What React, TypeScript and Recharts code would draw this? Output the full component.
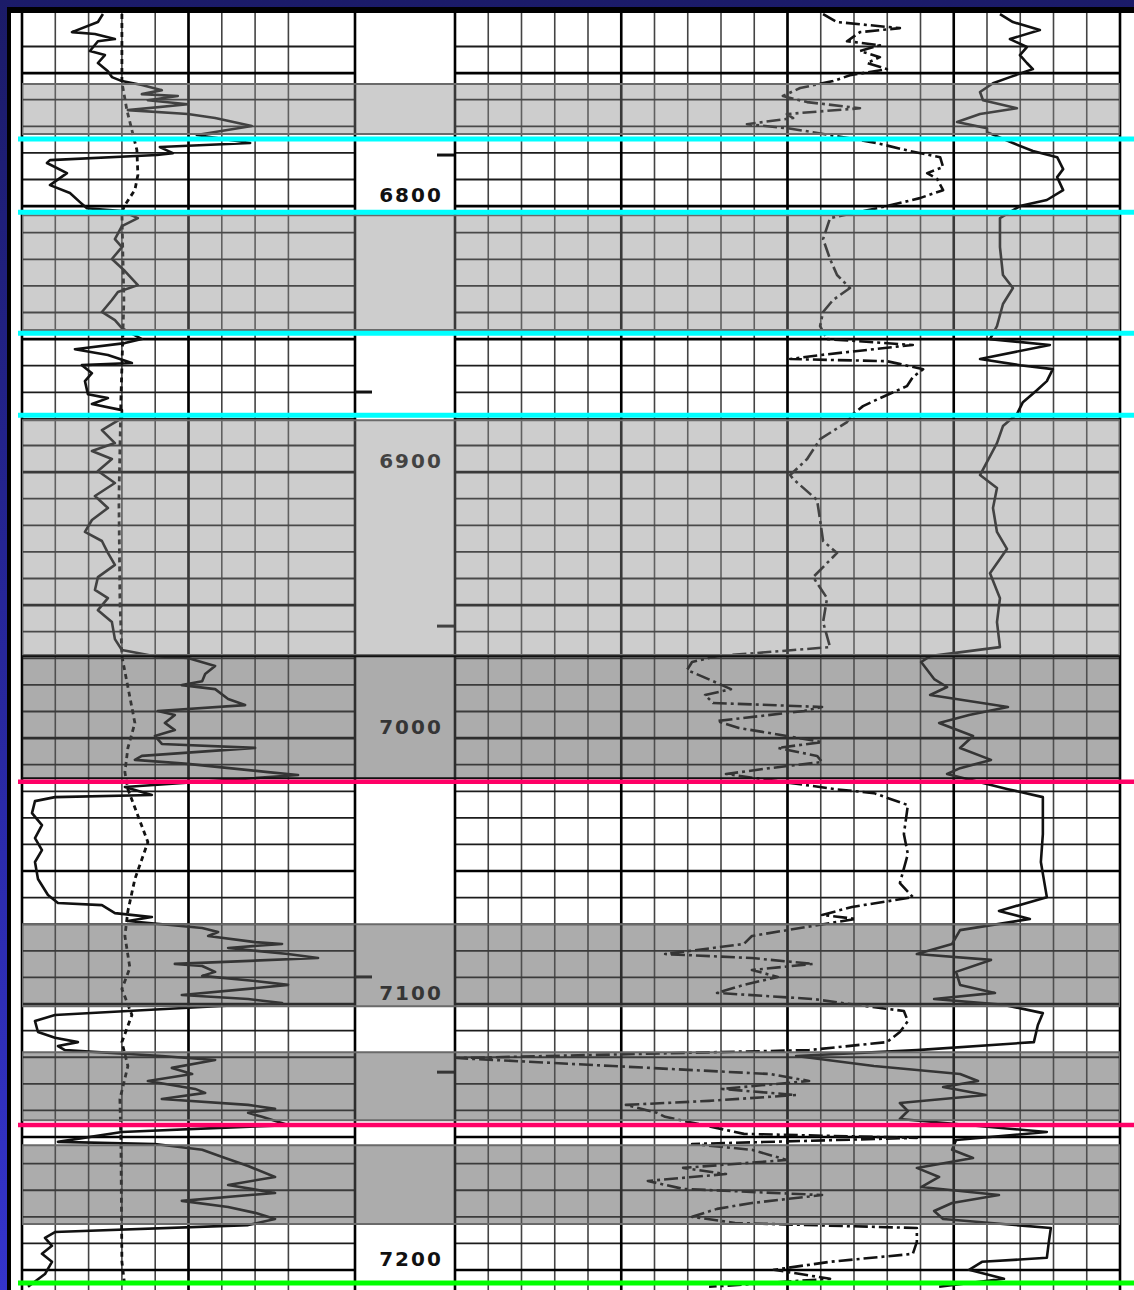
import React from 'react';
import { ScatterChart, Scatter, XAxis, YAxis, CartesianGrid, ReferenceArea, ReferenceLine } from 'recharts';

// depth window shown on the sheet (ft)
const TOP_DEPTH = 6727.4;
const BOTTOM_DEPTH = 7207.5;
const TOP = 13;
const HEIGHT = 1277;
const PAD = 3;

const depthMinorTicks = Array.from({ length: 48 }, (_, i) => 6730 + i * 10);
const depthMajorTicks = [6750, 6800, 6850, 6900, 6950, 7000, 7050, 7100, 7150, 7200];
const leftMinorTicks = [0, 10, 20, 30, 40, 50, 60, 70, 80, 90, 100];
const leftMajorTicks = [0, 50, 100];
const rightMinorTicks = Array.from({ length: 21 }, (_, i) => i);
const rightMajorTicks = [0, 5, 10, 15, 20];

const depthLabels = ['6800', '6900', '7000', '7100', '7200'];
const depthLabelValues = [6800, 6900, 7000, 7100, 7200];
const markDepths = [6780.8, 6869.9, 6957.9, 7089.8, 7125.6];
const markSides = ['right', 'left', 'right', 'left', 'right'];

// [depth, value] — left track 0..100
const grCurve: [number, number][] = [
  [6727.8, 24.3], [6730.8, 22.8], [6734.6, 15.0], [6735.3, 21.9], [6737.2, 27.9], [6738.0, 22.8],
  [6741.7, 20.4], [6743.2, 24.9], [6746.2, 22.8], [6749.3, 25.8], [6751.5, 27.0], [6753.0, 30.0],
  [6754.5, 36.0], [6756.4, 42.0], [6757.9, 36.0], [6758.6, 46.8], [6760.2, 37.8], [6761.7, 49.8],
  [6763.9, 31.8], [6765.4, 49.8], [6766.9, 58.0], [6769.9, 69.0], [6773.3, 52.5], [6776.3, 68.5],
  [6777.8, 41.4], [6780.1, 45.3], [6780.8, 40.5], [6782.7, 8.4], [6783.8, 7.5], [6787.6, 13.5],
  [6792.1, 8.4], [6795.1, 14.4], [6798.5, 17.4], [6800.8, 19.5], [6801.9, 30.0], [6804.5, 34.8],
  [6807.5, 30.0], [6812.4, 27.9], [6815.4, 30.0], [6819.9, 27.0], [6824.4, 30.9], [6829.7, 34.8],
  [6832.3, 28.8], [6835.3, 27.0], [6839.8, 24.0], [6842.9, 27.9], [6845.9, 30.0], [6850.0, 36.0],
  [6851.5, 30.9], [6853.8, 15.9], [6856.0, 25.8], [6859.0, 33.0], [6859.8, 18.0], [6862.8, 21.0],
  [6865.8, 18.9], [6870.7, 19.8], [6872.2, 25.8], [6874.4, 21.0], [6876.7, 30.0], [6879.7, 30.0],
  [6884.2, 24.0], [6889.1, 27.9], [6892.1, 21.0], [6895.1, 27.0], [6899.6, 22.8], [6904.1, 27.9],
  [6909.0, 21.9], [6913.5, 25.8], [6918.0, 21.0], [6922.5, 18.9], [6925.9, 24.0], [6930.4, 25.8],
  [6934.9, 27.9], [6939.5, 22.8], [6944.3, 21.9], [6947.4, 25.8], [6951.9, 22.8], [6956.4, 27.0],
  [6962.8, 27.9], [6966.9, 30.0], [6969.2, 39.9], [6969.9, 49.8], [6972.9, 58.0], [6975.9, 55.0],
  [6978.6, 54.1], [6980.1, 48.0], [6981.6, 58.0], [6985.3, 61.9], [6987.6, 67.0], [6989.8, 40.8],
  [6991.3, 45.9], [6994.3, 42.9], [6997.0, 45.9], [6999.2, 39.9], [7002.2, 42.0], [7003.7, 70.0],
  [7006.7, 36.0], [7008.2, 33.9], [7009.7, 49.8], [7012.8, 73.9], [7013.9, 82.9], [7018.4, 30.9],
  [7021.4, 39.0], [7022.2, 9.9], [7023.7, 3.9], [7028.2, 3.0], [7032.7, 6.0], [7037.6, 3.9],
  [7042.1, 6.0], [7046.6, 3.9], [7053.0, 4.8], [7059.0, 7.8], [7062.0, 10.8], [7062.8, 24.0],
  [7065.8, 27.9], [7067.3, 39.0], [7068.8, 31.8], [7071.4, 54.1], [7072.9, 58.9], [7074.4, 55.9],
  [7076.7, 70.0], [7077.4, 78.1], [7078.9, 61.9], [7081.2, 79.9], [7082.7, 88.9], [7084.9, 45.9],
  [7085.7, 54.1], [7087.9, 58.0], [7089.4, 54.1], [7091.3, 70.0], [7092.8, 79.9], [7094.3, 67.9],
  [7096.6, 48.0], [7098.1, 67.9], [7099.6, 78.1], [7101.1, 54.1], [7102.6, 31.8], [7104.1, 9.9],
  [7106.4, 3.9], [7110.5, 4.8], [7112.7, 9.9], [7114.3, 16.8], [7115.8, 10.8], [7117.3, 12.9],
  [7119.5, 42.0], [7120.3, 49.8], [7121.0, 58.0], [7124.0, 45.0], [7126.3, 51.1], [7128.9, 37.8],
  [7131.9, 52.0], [7133.4, 55.0], [7135.7, 42.0], [7137.9, 67.9], [7139.4, 76.0], [7140.9, 67.9],
  [7142.4, 72.1], [7145.5, 79.9], [7148.1, 30.0], [7151.8, 10.8], [7152.6, 39.9], [7154.8, 54.1],
  [7157.9, 61.0], [7160.9, 67.9], [7165.0, 76.0], [7168.0, 61.9], [7171.0, 76.0], [7174.0, 48.0],
  [7176.3, 61.9], [7178.5, 70.0], [7180.8, 76.0], [7183.1, 67.9], [7185.7, 9.9], [7187.9, 6.9],
  [7190.9, 9.0], [7193.9, 6.0], [7196.9, 9.0], [7201.5, 6.9], [7206.3, 1.8],
];

const spCurve: [number, number][] = [
  [6727.8, 30.0], [6753.4, 30.0], [6763.9, 31.5], [6778.9, 34.5], [6788.3, 34.8], [6793.9, 33.9],
  [6799.6, 30.9], [6802.3, 30.0], [6835.3, 30.6], [6872.9, 29.7], [6910.5, 29.1], [6948.1, 29.4],
  [6969.2, 30.0], [6994.3, 33.9], [7003.7, 31.8], [7012.8, 30.9], [7019.2, 31.8], [7039.1, 37.8],
  [7053.0, 33.9], [7065.0, 31.8], [7074.4, 30.9], [7086.4, 32.4], [7094.3, 30.0], [7104.1, 33.0],
  [7114.3, 30.0], [7123.3, 31.8], [7135.7, 29.4], [7151.1, 29.7], [7196.9, 30.0], [7206.3, 30.9],
];

// [depth, value] — right track 0..20
const deepCurve: [number, number][] = [
  [6727.8, 11.07], [6730.8, 11.49], [6733.1, 13.38], [6734.6, 12.18], [6738.0, 11.79], [6739.5, 12.78],
  [6741.7, 12.18], [6744.0, 12.78], [6746.2, 12.39], [6748.5, 12.99], [6750.8, 11.88], [6753.0, 11.37],
  [6755.6, 10.38], [6758.6, 9.86], [6760.9, 10.59], [6763.2, 12.18], [6765.4, 9.98], [6766.9, 10.17],
  [6769.2, 8.78], [6770.7, 9.98], [6772.2, 10.77], [6776.3, 12.69], [6779.3, 13.68], [6781.6, 14.59],
  [6785.3, 14.68], [6787.6, 14.2], [6789.8, 14.5], [6794.0, 14.68], [6797.0, 13.98], [6800.0, 12.99],
  [6804.5, 11.28], [6812.4, 11.07], [6819.9, 11.28], [6825.9, 11.49], [6830.8, 11.88], [6835.3, 11.37],
  [6839.8, 11.07], [6845.1, 10.98], [6850.0, 11.19], [6852.2, 13.77], [6856.0, 10.98], [6857.5, 10.08],
  [6858.3, 12.99], [6861.3, 14.08], [6864.3, 13.77], [6867.7, 13.59], [6872.2, 12.78], [6875.2, 12.27],
  [6878.2, 11.97], [6881.2, 11.79], [6887.6, 10.98], [6895.1, 10.59], [6901.1, 10.08], [6902.6, 10.17],
  [6910.5, 10.89], [6918.0, 10.98], [6925.9, 11.07], [6930.4, 11.49], [6939.5, 10.77], [6947.4, 11.19],
  [6956.4, 11.07], [6965.8, 11.28], [6969.2, 7.88], [6971.4, 7.13], [6974.4, 6.98], [6978.6, 7.76],
  [6981.6, 8.3], [6983.8, 7.52], [6986.8, 7.76], [6988.3, 11.04], [6989.8, 10.5], [6993.6, 7.88],
  [6996.2, 8.54], [6999.2, 9.98], [7001.5, 11.04], [7003.7, 9.71], [7006.7, 10.89], [7009.0, 11.04],
  [7011.3, 9.47], [7013.5, 8.15], [7019.2, 11.43], [7020.7, 12.6], [7025.2, 13.62], [7036.1, 13.5],
  [7043.6, 13.62], [7054.5, 13.38], [7059.8, 13.77], [7063.5, 11.94], [7066.5, 11.04], [7068.0, 12.06],
  [7071.4, 10.38], [7074.4, 8.93], [7077.4, 8.69], [7081.2, 6.32], [7082.7, 8.93], [7084.9, 10.77],
  [7087.2, 8.93], [7089.8, 9.71], [7092.8, 8.69], [7095.8, 7.88], [7098.1, 10.77], [7100.3, 12.06],
  [7102.6, 13.5], [7106.4, 13.62], [7110.5, 13.38], [7114.3, 12.99], [7117.3, 10.65], [7120.3, 0.06],
  [7123.3, 4.75], [7126.3, 9.47], [7128.9, 10.65], [7131.9, 8.03], [7134.2, 10.26], [7136.4, 7.64],
  [7137.9, 5.14], [7140.9, 6.08], [7142.4, 6.32], [7148.8, 8.69], [7150.3, 13.89], [7152.6, 7.13],
  [7154.8, 8.93], [7158.6, 9.98], [7161.6, 6.86], [7163.9, 8.15], [7166.5, 5.8], [7169.5, 6.86],
  [7171.8, 11.04], [7174.8, 8.93], [7177.0, 7.88], [7180.0, 7.13], [7182.3, 8.42], [7184.2, 13.89],
  [7189.4, 13.89], [7193.9, 13.77], [7196.9, 11.28], [7199.9, 9.59], [7203.3, 11.28], [7206.3, 7.64],
];

const shallowCurve: [number, number][] = [
  [6727.8, 16.39], [6730.8, 16.78], [6733.8, 17.59], [6737.2, 16.69], [6740.2, 17.2], [6743.2, 16.99],
  [6746.2, 17.2], [6748.5, 17.38], [6751.5, 16.69], [6753.8, 16.18], [6757.1, 15.79], [6760.2, 15.88],
  [6763.2, 16.9], [6765.4, 15.79], [6768.4, 15.1], [6770.7, 16.0], [6772.2, 16.0], [6776.3, 16.78],
  [6779.3, 17.38], [6781.6, 18.11], [6786.1, 18.29], [6789.1, 18.11], [6794.0, 18.29], [6797.7, 17.8],
  [6800.0, 16.99], [6804.5, 16.39], [6815.4, 16.39], [6825.9, 16.48], [6830.8, 16.78], [6836.8, 16.48],
  [6845.1, 16.3], [6850.0, 16.09], [6852.2, 17.89], [6857.5, 15.79], [6859.8, 16.99], [6861.3, 17.98],
  [6865.8, 17.8], [6869.2, 17.5], [6873.7, 17.08], [6878.2, 16.9], [6882.7, 16.48], [6889.1, 16.3],
  [6901.1, 15.79], [6906.0, 16.3], [6913.5, 16.18], [6922.5, 16.3], [6928.9, 16.6], [6938.0, 16.09],
  [6947.4, 16.39], [6956.4, 16.3], [6965.8, 16.39], [6969.2, 14.29], [6971.4, 14.02], [6977.8, 14.41],
  [6980.8, 14.8], [6983.8, 14.29], [6988.3, 16.63], [6991.3, 15.46], [6994.3, 14.56], [6999.2, 15.58],
  [7003.7, 15.19], [7008.2, 16.12], [7011.3, 15.19], [7013.5, 14.8], [7019.2, 16.63], [7022.2, 17.68],
  [7036.1, 17.68], [7046.6, 17.62], [7059.8, 17.8], [7065.0, 16.36], [7068.0, 17.29], [7072.2, 15.19],
  [7077.4, 14.95], [7081.2, 13.89], [7083.4, 16.12], [7087.9, 15.07], [7092.8, 15.19], [7095.8, 16.24],
  [7098.1, 14.41], [7100.3, 16.51], [7103.4, 17.68], [7107.9, 17.53], [7114.3, 17.41], [7117.3, 13.89],
  [7119.5, 10.26], [7123.3, 12.6], [7126.3, 15.19], [7128.9, 15.73], [7131.2, 14.68], [7134.2, 15.97],
  [7137.2, 13.38], [7140.2, 13.62], [7143.2, 13.38], [7148.1, 17.8], [7151.1, 15.07], [7154.8, 14.95],
  [7157.9, 15.58], [7161.6, 13.89], [7165.0, 14.56], [7168.8, 14.02], [7171.8, 16.36], [7174.8, 14.95],
  [7177.8, 14.41], [7180.8, 14.68], [7184.2, 17.92], [7189.4, 17.86], [7195.4, 17.8], [7196.9, 15.85],
  [7199.9, 15.46], [7203.3, 16.51], [7206.3, 14.56],
];

const bandTops = [6754.1, 6803.4, 6880.5, 6969.2, 7070.0, 7118.1, 7153.1];
const bandBases = [6772.9, 6846.6, 6968.8, 7015.1, 7100.8, 7143.7, 7182.7];
const bandShades = ['light', 'light', 'light', 'dark', 'dark', 'dark', 'dark'];

const cyanDepths = [6774.8, 6802.3, 6847.8, 6878.6];
const magentaDepths = [7016.4, 7145.5];
const greenDepths = [7204.9];

const toPoints = (c: [number, number][]) => c.map(([depth, v]) => ({ depth, v }));
const noDot = () => <g />;

interface Curve {
  name: string;
  points: [number, number][];
  dash?: string;
  width: number;
}

const hiddenX = { type: 'number' as const, hide: true, allowDataOverflow: true };
const hiddenY = {
  type: 'number' as const, hide: true, allowDataOverflow: true,
  reversed: true, domain: [TOP_DEPTH, BOTTOM_DEPTH] as [number, number],
};

const Track = ({ left, width, domain, minor, major, curves }: {
  left: number; width: number; domain: [number, number]; minor: number[]; major: number[]; curves: Curve[];
}) => (
  <div style={{ position: 'absolute', left: left - PAD, top: TOP }}>
    <ScatterChart width={width + PAD * 2} height={HEIGHT} margin={{ top: 0, right: PAD, bottom: 0, left: PAD }}>
      <XAxis xAxisId="minor" dataKey="v" domain={domain} ticks={minor} {...hiddenX} />
      <XAxis xAxisId="major" dataKey="v" domain={domain} ticks={major} {...hiddenX} />
      <YAxis yAxisId="minor" dataKey="depth" ticks={depthMinorTicks} {...hiddenY} />
      <YAxis yAxisId="major" dataKey="depth" ticks={depthMajorTicks} {...hiddenY} />
      <CartesianGrid
        xAxisId="minor"
        yAxisId="minor"
        horizontal={false}
        verticalValues={minor}
        stroke="#444"
        strokeWidth={1.6}
      />
      <CartesianGrid
        xAxisId="minor"
        yAxisId="minor"
        vertical={false}
        horizontalValues={depthMinorTicks}
        stroke="#1c1c1c"
        strokeWidth={1.8}
      />
      <CartesianGrid
        xAxisId="major"
        yAxisId="major"
        verticalValues={major}
        horizontalValues={depthMajorTicks}
        stroke="#000"
        strokeWidth={2.6}
      />
      {/* the grid leaves out the track's left edge, so draw it */}
      <ReferenceLine xAxisId="major" yAxisId="major" x={domain[0]} stroke="#000" strokeWidth={2.6} ifOverflow="visible" />
      {curves.map((c) => (
        <Scatter
          key={c.name}
          name={c.name}
          xAxisId="minor"
          yAxisId="minor"
          data={toPoints(c.points)}
          line={{ stroke: '#111', strokeWidth: c.width, strokeDasharray: c.dash, fill: 'none', strokeLinejoin: 'round' }}
          shape={noDot}
          isAnimationActive={false}
        />
      ))}
    </ScatterChart>
  </div>
);

const DepthLabel = (props: any) => (
  <text
    x={props.cx}
    y={props.cy - 4}
    textAnchor="middle"
    fontFamily="DejaVu Sans"
    fontWeight="bold"
    fontSize={20}
    letterSpacing={2}
    fill="#111"
  >
    {props.payload.label}
  </text>
);

const DepthTrack = () => (
  <div style={{ position: 'absolute', left: 355, top: TOP }}>
    <ScatterChart width={100} height={HEIGHT} margin={{ top: 0, right: 0, bottom: 0, left: 0 }}>
      <XAxis xAxisId="d" dataKey="v" domain={[0, 1]} {...hiddenX} />
      <YAxis yAxisId="d" dataKey="depth" {...hiddenY} />
      {markDepths.map((d, i) => (
        <ReferenceLine
          key={d}
          xAxisId="d"
          yAxisId="d"
          segment={markSides[i] === 'right' ? [{ x: 0.82, y: d }, { x: 1, y: d }] : [{ x: 0, y: d }, { x: 0.17, y: d }]}
          stroke="#111"
          strokeWidth={3}
        />
      ))}
      <Scatter
        xAxisId="d"
        yAxisId="d"
        data={depthLabels.map((label, i) => ({ v: 0.56, depth: depthLabelValues[i], label }))}
        shape={DepthLabel}
        isAnimationActive={false}
      />
    </ScatterChart>
  </div>
);

const Bands = () => (
  <div style={{ position: 'absolute', left: 22, top: TOP, pointerEvents: 'none' }}>
    <ScatterChart width={1098} height={HEIGHT} margin={{ top: 0, right: 0, bottom: 0, left: 0 }}>
      <XAxis xAxisId="b" dataKey="v" domain={[0, 1]} {...hiddenX} />
      <YAxis yAxisId="b" dataKey="depth" {...hiddenY} />
      {bandTops.map((t, i) => (
        <ReferenceArea
          key={t}
          xAxisId="b"
          yAxisId="b"
          x1={0}
          x2={1}
          y1={t}
          y2={bandBases[i]}
          fill={bandShades[i] === 'light' ? '#878787' : '#5a5a5a'}
          fillOpacity={bandShades[i] === 'light' ? 0.42 : 0.5}
          stroke={i === 3 ? '#111' : '#6a6a6a'}
          strokeWidth={2}
          ifOverflow="visible"
        />
      ))}
    </ScatterChart>
  </div>
);

const Markers = () => (
  <div style={{ position: 'absolute', left: 18, top: TOP, pointerEvents: 'none' }}>
    <ScatterChart width={1116} height={HEIGHT} margin={{ top: 0, right: 0, bottom: 0, left: 0 }}>
      <XAxis xAxisId="m" dataKey="v" domain={[0, 1]} {...hiddenX} />
      <YAxis yAxisId="m" dataKey="depth" {...hiddenY} />
      {cyanDepths.map((d) => (
        <ReferenceLine key={d} xAxisId="m" yAxisId="m" y={d} stroke="#00ffff" strokeWidth={5} ifOverflow="visible" />
      ))}
      {magentaDepths.map((d) => (
        <ReferenceLine key={d} xAxisId="m" yAxisId="m" y={d} stroke="#ff0066" strokeWidth={4.5} ifOverflow="visible" />
      ))}
      {greenDepths.map((d) => (
        <ReferenceLine key={d} xAxisId="m" yAxisId="m" y={d} stroke="#00ff00" strokeWidth={5} ifOverflow="visible" />
      ))}
    </ScatterChart>
  </div>
);

export default function App() {
  return (
    <div
      style={{
        position: 'absolute',
        left: 0,
        top: 0,
        width: 1134,
        height: 1290,
        overflow: 'hidden',
        background: 'linear-gradient(180deg, #1b1b68 0%, #2828a0 55%, #3434cc 100%)',
      }}
    >
      <div style={{ position: 'absolute', left: 7, top: 7, right: 0, bottom: 0, background: '#000' }} />
      <div style={{ position: 'absolute', left: 11, top: 13, right: 0, bottom: 0, background: '#fff' }} />
      <Track
        left={22}
        width={333}
        domain={[0, 100]}
        minor={leftMinorTicks}
        major={leftMajorTicks}
        curves={[
          { name: 'GR', points: grCurve, width: 2.6 },
          { name: 'SP', points: spCurve, width: 2.8, dash: '5 4' },
        ]}
      />
      <DepthTrack />
      <Track
        left={455}
        width={665}
        domain={[0, 20]}
        minor={rightMinorTicks}
        major={rightMajorTicks}
        curves={[
          { name: 'Deep', points: deepCurve, width: 2.6, dash: '14 4 3 4' },
          { name: 'Shallow', points: shallowCurve, width: 2.6 },
        ]}
      />
      <Bands />
      <Markers />
    </div>
  );
}
